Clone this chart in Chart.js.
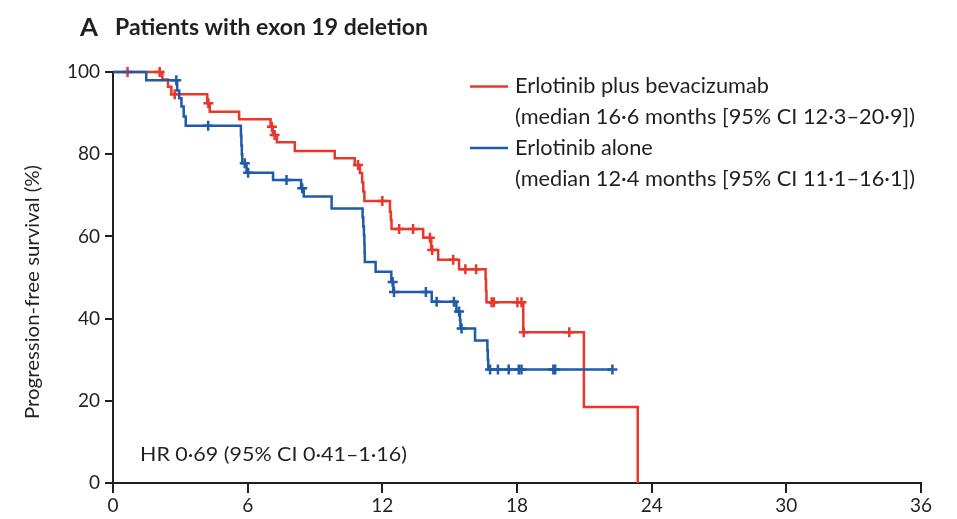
<!DOCTYPE html>
<html>
<head>
<meta charset="utf-8">
<script src="https://cdn.jsdelivr.net/npm/chart.js@4"></script>
<style>
  html, body { margin: 0; padding: 0; background: #ffffff; }
  #wrap { width: 957px; height: 519px; position: relative; }
</style>
</head>
<body>
<div id="wrap"><canvas id="km" width="957" height="519"></canvas></div>
<script>
// Progression-free survival, patients with exon 19 deletion (Kaplan–Meier)

// Erlotinib plus bevacizumab: event times (months) and survival (%) after each event
const comboEventMonths = [2.2, 2.45, 2.6, 4.2, 4.31, 5.62, 7.02, 7.12, 7.3, 8.1, 9.88, 10.77, 11.0, 11.1, 11.15, 11.2,
  12.34, 12.38, 12.41, 13.82, 14.18, 14.49, 15.42, 16.6, 16.62, 16.64, 18.28, 20.98, 23.38];
const comboSurvival = [98.2, 96.4, 94.6, 92.4, 90.3, 88.5, 86.7, 84.7, 82.9, 80.8, 79.0, 77.4, 75.4, 73.2, 70.9, 68.6,
  66.0, 64.0, 61.8, 59.7, 56.7, 54.3, 52.0, 49.6, 46.8, 44.0, 36.7, 18.5, 0];
const comboCensorMonths = [0.65, 2.08, 2.75, 4.25, 7.08, 7.2, 10.92, 12.0, 12.75, 13.37, 14.12, 14.22, 15.16, 15.7,
  16.18, 16.87, 16.97, 18.02, 18.2, 18.3, 20.33];

// Erlotinib alone
const aloneEventMonths = [1.48, 2.86, 2.95, 3.05, 3.15, 3.24, 5.7, 5.72, 5.74, 5.76, 5.95, 7.13, 8.38, 8.5, 9.74,
  11.12, 11.15, 11.18, 11.2, 11.21, 11.22, 11.7, 12.4, 12.49, 14.2, 15.3, 15.46, 15.48, 16.13, 16.68, 16.7, 16.72];
const aloneSurvival = [98.0, 95.5, 93.6, 91.6, 89.2, 86.9, 84.5, 82.1, 79.9, 77.8, 75.5, 73.7, 71.7, 69.7, 66.8,
  64.6, 62.4, 60.3, 58.1, 56.0, 53.8, 51.4, 48.9, 46.5, 44.1, 41.7, 39.6, 37.6, 34.7, 32.3, 30.0, 27.6];
const aloneCensorMonths = [2.82, 4.24, 5.87, 6.02, 7.73, 8.43, 12.46, 12.52, 13.94, 14.42, 15.19, 15.42, 15.53,
  16.8, 17.15, 17.63, 18.08, 18.2, 19.62, 19.7, 22.25];

const monthTicks = [0, 6, 12, 18, 24, 30, 36];
const survivalTicks = [0, 20, 40, 60, 80, 100];

const seriesNames = ['Erlotinib plus bevacizumab', 'Erlotinib alone'];
const seriesMedians = ['(median 16·6 months [95% CI 12·3–20·9])', '(median 12·4 months [95% CI 11·1–16·1])'];
const panelLetter = 'A';
const panelTitle = 'Patients with exon 19 deletion';
const hazardText = 'HR 0·69 (95% CI 0·41–1·16)';
const yAxisTitle = 'Progression-free survival (%)';

const RED = '#e8372b';
const BLUE = '#1f5ba8';
const INK = '#231f20';
const FONT = 'Lato, "Open Sans", sans-serif';

// survival level in force at time t
function levelAt(times, surv, t) {
  let s = 100;
  for (let i = 0; i < times.length; i++) { if (times[i] <= t) s = surv[i]; }
  return s;
}

// step curve points: start at 100%, one point per event, extended to last follow-up
function curvePoints(times, surv, censors) {
  const pts = [{ x: 0, y: 100 }];
  times.forEach((t, i) => pts.push({ x: t, y: surv[i] }));
  const lastCensor = Math.max(...censors);
  const lastEvent = times[times.length - 1];
  if (lastCensor > lastEvent) pts.push({ x: lastCensor, y: surv[surv.length - 1] });
  return pts;
}

function censorPoints(times, surv, censors) {
  return censors.map(t => ({ x: t, y: levelAt(times, surv, t) }));
}

// text squeezed horizontally to a given width
function drawFitted(ctx, text, x, y, font, width) {
  ctx.save();
  ctx.font = font;
  const w = ctx.measureText(text).width;
  const k = width ? width / w : 1;
  ctx.translate(x, y);
  ctx.scale(k, 1);
  ctx.fillText(text, 0, 0);
  ctx.restore();
  return k;
}

const annotations = {
  id: 'annotations',
  afterDraw(chart) {
    const ctx = chart.ctx;
    ctx.save();
    ctx.fillStyle = INK;
    ctx.textBaseline = 'middle';
    ctx.textAlign = 'left';

    // panel heading
    drawFitted(ctx, panelLetter, 80, 28, 'bold 25px ' + FONT, 18);
    drawFitted(ctx, panelTitle, 115, 28, 'bold 22px ' + FONT, 313);

    // legend
    ctx.lineWidth = 2.5;
    [[RED, 86.5], [BLUE, 148]].forEach(([c, y]) => {
      ctx.strokeStyle = c;
      ctx.beginPath(); ctx.moveTo(470, y); ctx.lineTo(508, y); ctx.stroke();
    });
    const legendFont = '21px ' + FONT;
    ctx.font = legendFont;
    const k = 400 / ctx.measureText(seriesMedians[0]).width;
    const legendLines = [seriesNames[0], seriesMedians[0], seriesNames[1], seriesMedians[1]];
    const legendY = [86, 117.5, 148, 179];
    legendLines.forEach((txt, i) => {
      ctx.font = legendFont;
      drawFitted(ctx, txt, 515, legendY[i], legendFont, ctx.measureText(txt).width * k);
    });

    // hazard ratio
    drawFitted(ctx, hazardText, 140, 455, '20px ' + FONT, 267);

    // y axis title
    ctx.save();
    ctx.translate(33, 292);
    ctx.rotate(-Math.PI / 2);
    drawFitted(ctx, yAxisTitle, -127, 0, '20px ' + FONT, 254);
    ctx.restore();

    ctx.restore();
  }
};

const axisFont = { family: FONT, size: 19 };

new Chart(document.getElementById('km'), {
  type: 'line',
  data: {
    datasets: [
      {
        label: seriesNames[1],
        data: curvePoints(aloneEventMonths, aloneSurvival, aloneCensorMonths),
        borderColor: BLUE, borderWidth: 2.5, stepped: 'before', pointRadius: 0, fill: false, clip: false, order: 1
      },
      {
        type: 'scatter',
        label: seriesNames[1] + ' censored',
        data: censorPoints(aloneEventMonths, aloneSurvival, aloneCensorMonths),
        pointStyle: 'cross', pointRadius: 5, pointBorderWidth: 2.5, borderColor: BLUE, backgroundColor: BLUE,
        clip: false, order: 0
      },
      {
        label: seriesNames[0],
        data: curvePoints(comboEventMonths, comboSurvival, comboCensorMonths),
        borderColor: RED, borderWidth: 2.5, stepped: 'before', pointRadius: 0, fill: false, clip: false, order: 3
      },
      {
        type: 'scatter',
        label: seriesNames[0] + ' censored',
        data: censorPoints(comboEventMonths, comboSurvival, comboCensorMonths),
        pointStyle: 'cross', pointRadius: 5, pointBorderWidth: 2.5, borderColor: RED, backgroundColor: RED,
        clip: false, order: 2
      }
    ]
  },
  options: {
    responsive: false,
    animation: false,
    devicePixelRatio: 1,
    layout: { padding: { top: 72, right: 36, left: 0, bottom: 0 } },
    plugins: { legend: { display: false }, tooltip: { enabled: false }, title: { display: false } },
    scales: {
      x: {
        type: 'linear', min: 0, max: 36,
        afterBuildTicks: s => { s.ticks = monthTicks.map(v => ({ value: v })); },
        afterFit: s => { s.height = 36; },
        grid: { drawOnChartArea: false, drawTicks: true, tickLength: 10, color: INK, lineWidth: 2 },
        border: { display: true, color: INK, width: 2 },
        ticks: { font: axisFont, color: INK, padding: 1, maxRotation: 0, autoSkip: false }
      },
      y: {
        type: 'linear', min: 0, max: 100,
        afterBuildTicks: s => { s.ticks = survivalTicks.map(v => ({ value: v })); },
        afterFit: s => { s.width = 113; },
        grid: { drawOnChartArea: false, drawTicks: true, tickLength: 8, color: INK, lineWidth: 2 },
        border: { display: true, color: INK, width: 2 },
        ticks: { font: axisFont, color: INK, padding: 5, autoSkip: false }
      }
    }
  },
  plugins: [annotations]
});
</script>
</body>
</html>
